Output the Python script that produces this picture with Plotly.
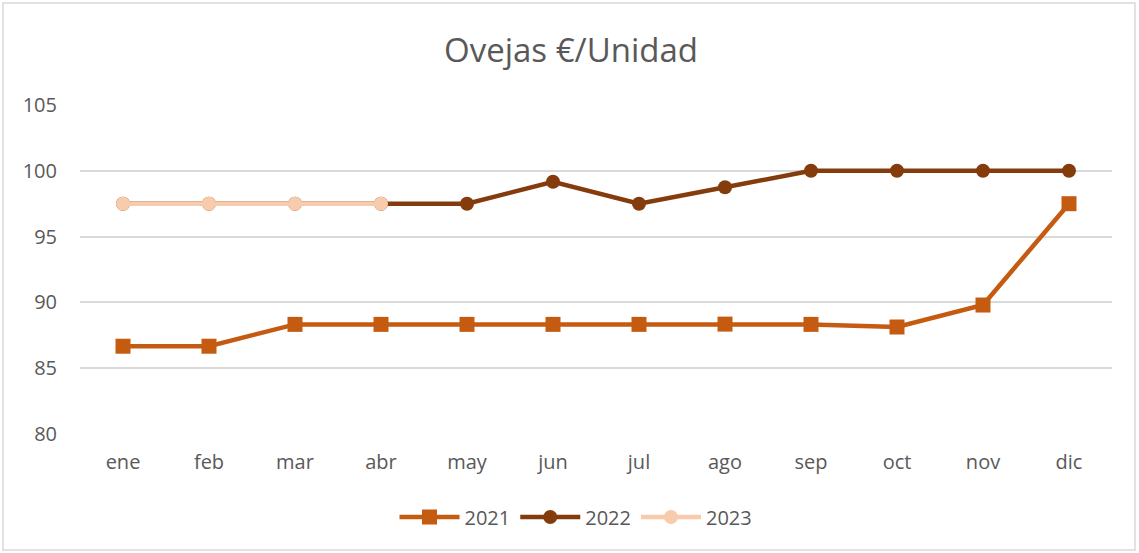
import plotly.graph_objects as go

months = ["ene", "feb", "mar", "abr", "may", "jun", "jul", "ago", "sep", "oct", "nov", "dic"]
v2021 = [86.67, 86.67, 88.33, 88.33, 88.33, 88.33, 88.33, 88.35, 88.33, 88.13, 89.8, 97.5]
v2022 = [97.5, 97.5, 97.5, 97.5, 97.5, 99.17, 97.5, 98.75, 100, 100, 100, 100]
v2023 = [97.5, 97.5, 97.5, 97.5]
y_ticks = [80, 85, 90, 95, 100, 105]

FONT = "'Open Sans', 'Segoe UI', sans-serif"
GRAY = "#595959"

fig = go.Figure()
fig.add_trace(go.Scatter(x=months, y=v2021, name="2021", mode="lines+markers",
                         line=dict(color="#C55A11", width=4.5),
                         marker=dict(symbol="square", size=15, color="#C55A11")))
fig.add_trace(go.Scatter(x=months, y=v2022, name="2022", mode="lines+markers",
                         line=dict(color="#843C0C", width=4.5),
                         marker=dict(symbol="circle", size=14, color="#843C0C")))
fig.add_trace(go.Scatter(x=months[:len(v2023)], y=v2023, name="2023", mode="lines+markers",
                         line=dict(color="#F8CBAD", width=4.5),
                         marker=dict(symbol="circle", size=14, color="#F8CBAD")))

L, R, T, B = 80, 27, 105, 119
W, H = 1139, 553
pw, ph = W - L - R, H - T - B

fig.update_layout(
    width=W, height=H,
    margin=dict(l=L, r=R, t=T, b=B),
    paper_bgcolor="white", plot_bgcolor="white",
    font=dict(family=FONT, color=GRAY, size=20),
    title=dict(text="Ovejas €/Unidad", x=571 / W, xref="container", xanchor="center",
               y=1 - 50 / H, yref="container", yanchor="middle",
               font=dict(size=33, color=GRAY, family=FONT)),
    showlegend=True,
    legend=dict(orientation="h", x=(576 - L) / pw, xanchor="center",
                y=-(517 - (H - B)) / ph, yanchor="middle",
                font=dict(size=20, color=GRAY), itemwidth=60,
                bgcolor="rgba(0,0,0,0)"),
    xaxis=dict(type="category", showgrid=False, zeroline=False, showline=False,
               ticks="", tickfont=dict(size=20, color=GRAY), range=[-0.5, 11.5],
               ticklabelstandoff=14),
    yaxis=dict(range=[80, 105], tickvals=y_ticks, showgrid=True, gridcolor="#D9D9D9",
               gridwidth=1.5, zeroline=False, showline=False, ticks="",
               tickfont=dict(size=20, color=GRAY), ticklabelstandoff=22),
    shapes=[dict(type="rect", xref="paper", yref="paper",
                 x0=(3 - L) / pw, x1=(1135 - L) / pw,
                 y0=-(550 - (H - B)) / ph, y1=1 + (T - 3) / ph,
                 line=dict(color="#D9D9D9", width=1.5), layer="below")],
)

fig.write_html("out.html", config={"displayModeBar": False},
               post_script="document.body.style.margin='0';document.body.style.overflow='hidden';")
